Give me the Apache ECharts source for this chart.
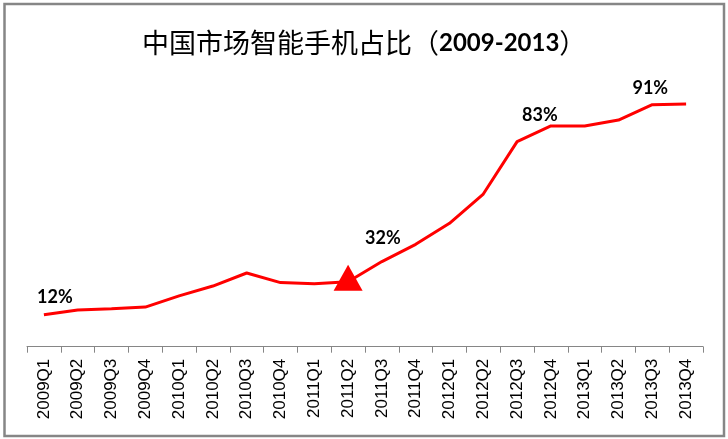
<!DOCTYPE html>
<html>
<head>
<meta charset="utf-8">
<script src="https://cdn.jsdelivr.net/npm/echarts@6/dist/echarts.min.js"></script>
<style>
  html, body { margin: 0; padding: 0; background: #fff; }
  #chart { width: 728px; height: 439px; }
</style>
</head>
<body>
<div id="chart"></div>
<script>
// quarters on the x axis
var quarters = ['2009Q1', '2009Q2', '2009Q3', '2009Q4',
                '2010Q1', '2010Q2', '2010Q3', '2010Q4',
                '2011Q1', '2011Q2', '2011Q3', '2011Q4',
                '2012Q1', '2012Q2', '2012Q3', '2012Q4',
                '2013Q1', '2013Q2', '2013Q3', '2013Q4'];
// smartphone share (%)
var share = [12, 13.8, 14.3, 14.9,
             19.1, 22.8, 27.7, 24.1,
             23.7, 24.4, 32, 38.5,
             46.4, 57.4, 77.1, 83,
             83, 85.2, 91, 91.2];
// which points carry a value label
var labelled = [0, 10, 15, 18];
// the point with the triangle marker
var markedIndex = 9;

// label nudges (px), same order as labelled
var labelOffsets = [[11, -18], [1, -23], [-11, -11], [-2, -16]];

var chart = echarts.init(document.getElementById('chart'));

var seriesData = share.map(function (v, i) {
    var item = { value: v, symbol: 'circle', symbolSize: 0 };
    var k = labelled.indexOf(i);
    if (k >= 0) {
        item.label = {
            show: true,
            position: 'inside',
            offset: labelOffsets[k],
            formatter: '{c}%',
            color: '#000',
            fontFamily: 'Lato',
            fontWeight: 'bold',
            fontSize: 18
        };
    }
    if (i === markedIndex) {
        item.symbol = 'triangle';
        item.symbolSize = [29, 26];
        item.symbolOffset = [0, -4];
        item.itemStyle = { color: '#ff0000' };
    }
    return item;
});

var option = {
    animation: false,
    backgroundColor: '#fff',
    title: {
        text: '{a|中国市场智能手机占比（}{b|2009-2013}{a|）}',
        left: 137,
        top: 23,
        textStyle: {
            rich: {
                a: { fontFamily: 'Noto Sans CJK SC', fontSize: 27, fontWeight: 'normal', color: '#000', lineHeight: 30 },
                b: { fontFamily: 'Lato', fontSize: 24, fontWeight: 'bold', color: '#000', lineHeight: 30 }
            }
        }
    },
    grid: {
        left: 27,
        right: 25,
        top: 80.7,
        bottom: 92.3
    },
    xAxis: {
        type: 'category',
        data: quarters,
        boundaryGap: true,
        axisLine: { lineStyle: { color: '#868686', width: 1 } },
        axisTick: { show: true, interval: 0, length: 6, lineStyle: { color: '#868686' } },
        axisLabel: {
            interval: 0,
            rotate: 90,
            margin: 12,
            color: '#000',
            fontFamily: 'Liberation Sans',
            fontSize: 17
        }
    },
    yAxis: {
        type: 'value',
        min: 0,
        max: 100,
        show: false
    },
    series: [
        {
            type: 'line',
            data: seriesData,
            showSymbol: true,
            lineStyle: { color: '#ff0000', width: 3 },
            itemStyle: { color: '#ff0000' }
        }
    ],
    graphic: [
        {
            type: 'rect',
            shape: { x: 4.5, y: 4, width: 719.5, height: 432 },
            style: { fill: 'none', stroke: '#868686', lineWidth: 2.5 },
            silent: true
        }
    ]
};
chart.setOption(option);
window.onresize = chart.resize;
</script>
</body>
</html>
